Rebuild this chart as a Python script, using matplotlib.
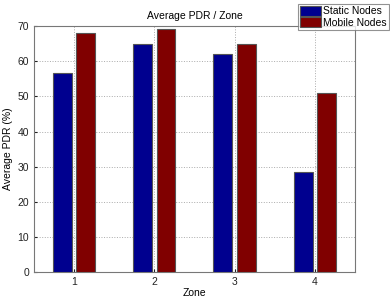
import matplotlib.pyplot as plt
import numpy as np

plt.rcParams['font.family'] = ['Liberation Sans', 'DejaVu Sans']

zones = [1, 2, 3, 4]
static_pdr = [56.6, 65.0, 62.0, 28.4]
mobile_pdr = [68.0, 69.3, 65.0, 51.0]

fig = plt.figure(figsize=(3.9, 2.97), dpi=100)
ax = fig.add_axes([0.087, 0.084, 0.823, 0.828])

x = np.array(zones)
w = 0.235
ax.bar(x - 0.145, static_pdr, w, color='#00008F', edgecolor='#555555', linewidth=0.8,
       label='Static Nodes', zorder=3)
ax.bar(x + 0.145, mobile_pdr, w, color='#800000', edgecolor='#555555', linewidth=0.8,
       label='Mobile Nodes', zorder=3)

ax.set_xlim(0.5, 4.5)
ax.set_ylim(0, 70)
ax.set_xticks(zones)
ax.set_yticks(range(0, 71, 10))
ax.grid(True, linestyle=':', color='#aaaaaa', linewidth=0.7, zorder=0)
for s in ax.spines.values():
    s.set_color('#777777')
ax.tick_params(labelsize=7.5, length=2, direction='in', colors='#222222')
ax.set_xlabel('Zone', fontsize=7.5, labelpad=1)
ax.set_ylabel('Average PDR (%)', fontsize=7.5, labelpad=3)
ax.set_title('Average PDR / Zone', fontsize=7.5, pad=5)

leg = fig.legend(loc='upper right', bbox_to_anchor=(0.997, 0.988), fontsize=7.5,
                 frameon=True, fancybox=False, handlelength=2.0, handleheight=1.1,
                 handletextpad=0.2, borderpad=0.2, labelspacing=0.1, borderaxespad=0)
leg.get_frame().set_edgecolor('#777777')
leg.get_frame().set_linewidth(0.8)

fig.savefig('out.png', dpi=100)
